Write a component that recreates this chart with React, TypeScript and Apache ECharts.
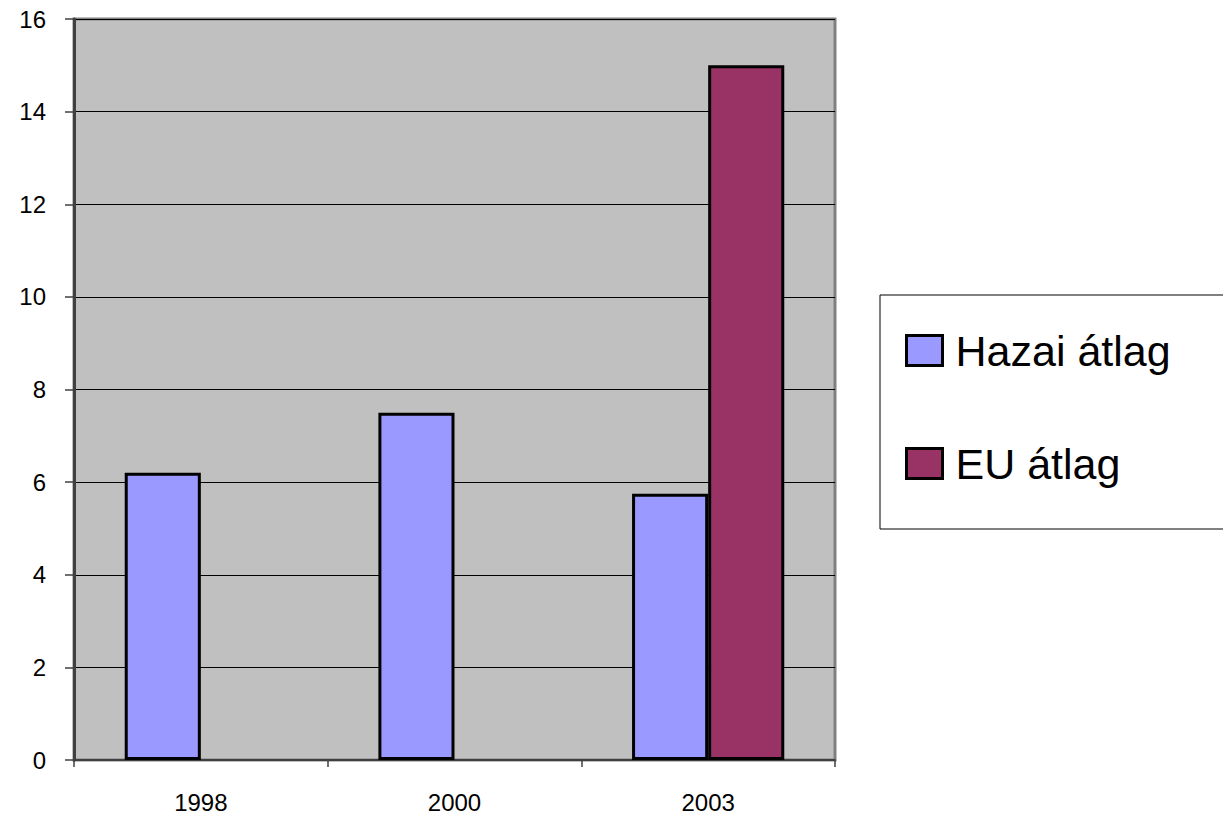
import React, { useEffect, useRef } from "react";
import * as echarts from "echarts";

const categories = ["1998", "2000", "2003"];
const hazaiValues: (number | null)[] = [6.2, 7.5, 5.75];
const euValues: (number | null)[] = [null, null, 15];
const seriesNames = ["Hazai átlag", "EU átlag"];

export default function App() {
  const ref = useRef<HTMLDivElement>(null);
  useEffect(() => {
    document.body.style.margin = "0";
    const chart = echarts.init(ref.current!, null, { renderer: "svg" });
    chart.setOption({
      animation: false,
      backgroundColor: "#ffffff",
      textStyle: { fontFamily: "Liberation Sans, Arial, sans-serif" },
      grid: {
        left: 74,
        right: 388,
        top: 19,
        bottom: 56,
        show: true,
        backgroundColor: "#C0C0C0",
        borderColor: "#808080",
        borderWidth: 3,
      },
      legend: {
        orient: "vertical",
        left: 880,
        top: 295,
        padding: [34, 400, 44, 25],
        itemWidth: 36,
        itemHeight: 30,
        itemGap: 70,
        borderColor: "#000000",
        borderWidth: 1,
        icon: "rect",
        itemStyle: { borderColor: "#000000", borderWidth: 3 },
        textStyle: { fontSize: 43, color: "#000000", padding: [0, 0, 0, 8] },
        data: seriesNames,
      },
      xAxis: {
        type: "category",
        data: categories,
        axisLine: { lineStyle: { color: "#404040", width: 2 } },
        axisTick: { show: true, length: 7, lineStyle: { color: "#404040", width: 1.5 } },
        axisLabel: { color: "#000000", fontSize: 24, margin: 30 },
      },
      yAxis: {
        type: "value",
        min: 0,
        max: 16,
        interval: 2,
        axisLine: { show: true, lineStyle: { color: "#404040", width: 3 } },
        axisTick: { show: true, length: 9, lineStyle: { color: "#404040", width: 1.5 } },
        axisLabel: { color: "#000000", fontSize: 24, margin: 28 },
        splitLine: { lineStyle: { color: "#000000", width: 1 } },
      },
      series: [
        {
          name: seriesNames[0],
          type: "bar",
          data: hazaiValues,
          barGap: "0%",
          barCategoryGap: "40%",
          itemStyle: { color: "#9999FF", borderColor: "#000000", borderWidth: 3 },
        },
        {
          name: seriesNames[1],
          type: "bar",
          data: euValues,
          itemStyle: { color: "#993366", borderColor: "#000000", borderWidth: 3 },
        },
      ],
    });
    return () => chart.dispose();
  }, []);
  return <div ref={ref} style={{ width: 1223, height: 816 }} />;
}
